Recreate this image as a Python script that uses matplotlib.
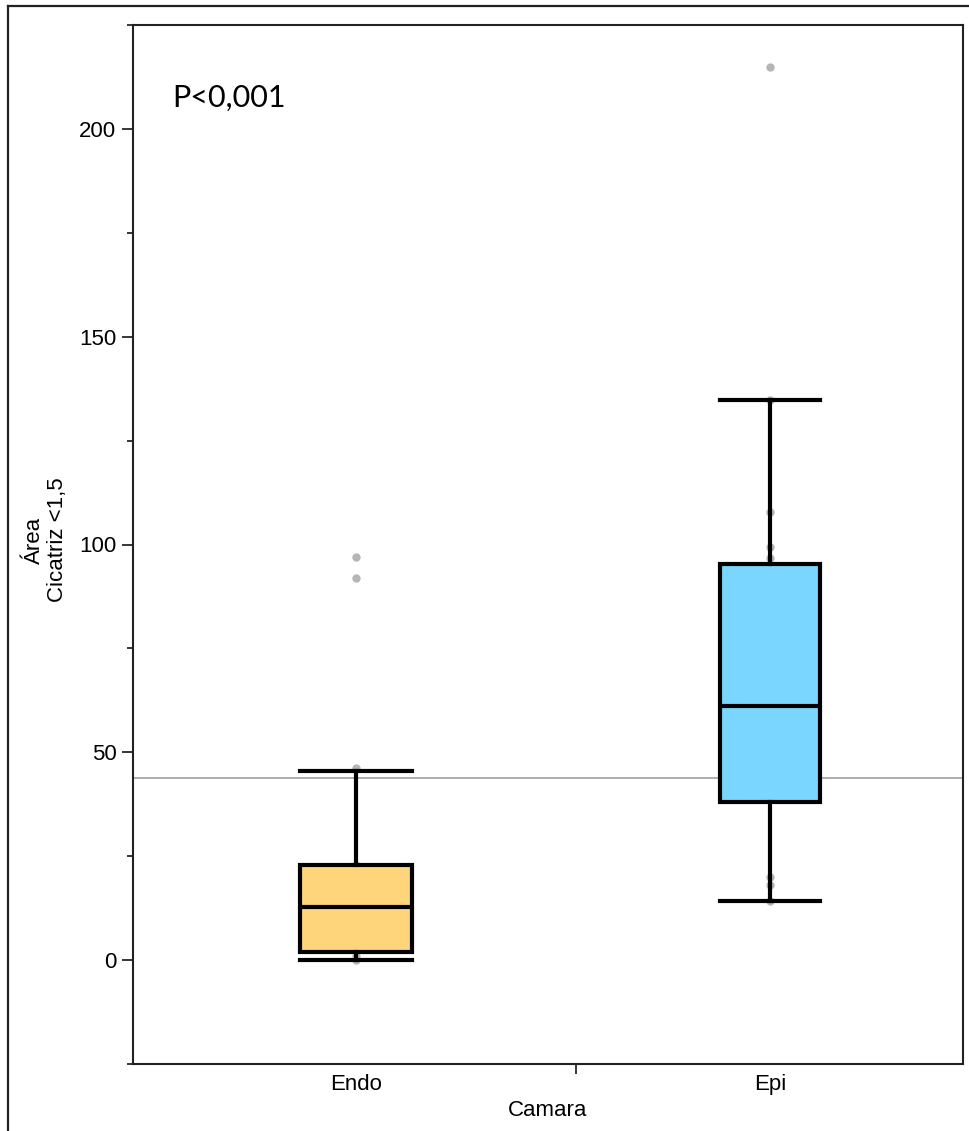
import matplotlib.pyplot as plt
from matplotlib.lines import Line2D
import numpy as np

plt.rcParams['font.family'] = ['Liberation Sans', 'DejaVu Sans']

# chart data
groups = ['Endo', 'Epi']
whisker_low = [0.0, 14.3]
q1 = [1.9, 38.0]
medians = [12.8, 61.1]
q3 = [22.9, 95.3]
whisker_high = [45.5, 134.8]
points_endo = [97.0, 91.9, 46.2, 23.0, 1.0, 0.0]
points_epi = [215.0, 134.8, 107.8, 99.4, 96.8, 20.0, 18.0, 14.3]
ref_line = 43.7
p_text = 'P<0,001'

box_colors = ['#FFD57C', '#7AD6FF']
positions = [0, 1]

fig = plt.figure(figsize=(9.7, 11.31), dpi=100)
ax = fig.add_axes([133 / 970, 67 / 1131, 830 / 970, 1039 / 1131])

# outer frame of the screenshot (top and left only)
fig.add_artist(Line2D([8 / 970, 1.0], [1 - 5.5 / 1131] * 2, transform=fig.transFigure, color='#222222', lw=1.6))
fig.add_artist(Line2D([8 / 970] * 2, [0, 1 - 5.5 / 1131], transform=fig.transFigure, color='#222222', lw=1.6))

ax.axhline(ref_line, color='#a0a0a0', lw=1.2, zorder=1)

for pos, pts in zip(positions, [points_endo, points_epi]):
    ax.plot([pos] * len(pts), pts, 'o', color='#b5b5b5', ms=6, mec='none', zorder=2)

stats = []
for i in range(len(groups)):
    stats.append(dict(med=medians[i], q1=q1[i], q3=q3[i], whislo=whisker_low[i], whishi=whisker_high[i], fliers=[]))

bp = ax.bxp(stats, positions=positions, widths=[0.27, 0.24], patch_artist=True, showfliers=False,
            boxprops=dict(lw=3.0, edgecolor='black'),
            medianprops=dict(color='black', lw=3.0),
            whiskerprops=dict(color='black', lw=3.0),
            capprops=dict(color='black', lw=3.0),
            capwidths=[0.27, 0.24], manage_ticks=False, zorder=3)
for patch, c in zip(bp['boxes'], box_colors):
    patch.set_facecolor(c)

ax.set_xlim(-0.539, 1.466)
ax.set_ylim(-25, 225)

ax.set_yticks(np.arange(0, 201, 50))
ax.set_yticks(np.arange(-25, 226, 50), minor=True)
ax.tick_params(axis='y', which='major', length=8, width=1.1, labelsize=16, pad=4)
ax.tick_params(axis='y', which='minor', length=4.5, width=1.1)

ax.set_xticks(positions)
ax.set_xticklabels(groups)
ax.set_xticks([0.531], minor=True)
ax.tick_params(axis='x', which='major', length=0, labelsize=16, pad=7)
ax.tick_params(axis='x', which='minor', length=7, width=1.1)

for s in ax.spines.values():
    s.set_linewidth(1.5)
    s.set_color('#222222')

ax.set_xlabel('Camara', fontsize=16, labelpad=4)
fig.text(46 / 970, 1 - 540 / 1131, 'Área\nCicatriz <1,5', rotation=90, ha='center', va='center',
         multialignment='center', fontsize=16, linespacing=1.1)

ax.text(172 / 970, 1 - 107 / 1131, p_text, transform=fig.transFigure, fontsize=22,
        family=['Lato', 'DejaVu Sans'], va='baseline', ha='left')

fig.savefig('out.png', dpi=100)
